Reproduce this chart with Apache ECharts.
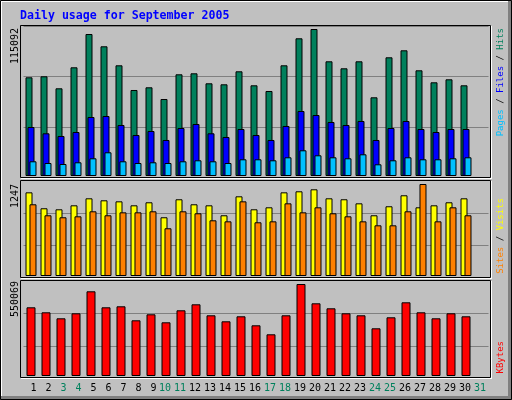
<!DOCTYPE html>
<html><head><meta charset="utf-8">
<script src="https://cdn.jsdelivr.net/npm/echarts@6/dist/echarts.min.js"></script>
<style>html,body{margin:0;padding:0;background:#c0c0c0}#c{width:512px;height:400px}</style>
</head><body><div id="c"></div>
<script>
const titleText = 'Daily usage for September 2005';
const days = ['1','2','3','4','5','6','7','8','9','10','11','12','13','14','15','16','17','18','19','20','21','22','23','24','25','26','27','28','29','30','31'];
const weekendDays = ['3','4','10','11','17','18','24','25','31'];
const hits = [77276, 78059, 68664, 85106, 111177, 101547, 86671, 67333, 69447, 60286, 79625, 80408, 72579, 71796, 81974, 71013, 66550, 86671, 107810, 115092, 89804, 84323, 89804, 61617, 92936, 98416, 82757, 73362, 75711, 71013, null];
const files = [38364, 33432, 31318, 34449, 46193, 46976, 39930, 32101, 35232, 28186, 37581, 40713, 33432, 30535, 36798, 32101, 28186, 39147, 50891, 47759, 42279, 39930, 43062, 28186, 37581, 43062, 36798, 34449, 36798, 36798, null];
const pages = [11510, 10178, 9395, 10727, 13859, 18556, 11510, 10178, 10727, 10178, 11510, 12293, 11510, 10178, 13076, 13076, 12293, 14642, 20123, 16208, 14642, 13859, 16991, 9161, 12293, 14642, 13076, 13076, 13859, 14642, null];
const visits = [1134, 918, 904, 958, 1053, 1026, 1012, 958, 999, 796, 1040, 972, 958, 823, 1080, 904, 931, 1134, 1148, 1175, 1053, 1040, 985, 823, 945, 1094, 931, 958, 999, 1053, null];
const sites = [972, 823, 796, 809, 877, 823, 863, 863, 877, 647, 877, 850, 755, 741, 1012, 728, 741, 985, 863, 931, 850, 809, 741, 687, 687, 877, 1247, 741, 931, 823, null];
const kbytes = [410757, 380862, 344988, 374883, 506421, 410757, 416736, 333030, 368904, 321072, 392820, 428694, 362925, 327051, 356946, 303135, 249324, 362925, 550069, 434673, 404778, 374883, 362925, 285198, 350967, 440652, 380862, 344988, 374883, 356946, null];
const maxLabels = ['115092', '1247', '550069'];

const C = {hits:'#00805c', files:'#0000ff', pages:'#00c0ff', visits:'#ffff00', sites:'#ff8000', kbytes:'#ff0000'};
const mono = '"DejaVu Sans Mono", monospace';

// axis ranges: panel pixel layout [gridTop, gridHeight, base offset from bottom, max bar height]
function valAxis(idx, maxVal, gridH, baseOff, barH) {
  const u = maxVal / barH;
  return {
    type: 'value', gridIndex: idx,
    min: -baseOff * u, max: (gridH - baseOff) * u, interval: gridH / 3 * u,
    axisLine: {show: false}, axisTick: {show: false}, axisLabel: {show: false},
    splitLine: {show: true, showMinLine: false, showMaxLine: false, lineStyle: {color: '#808080', width: 1}}
  };
}
function catAxis(idx, showLabels) {
  return {
    type: 'category', gridIndex: idx, data: days, boundaryGap: true,
    axisLine: {show: false}, axisTick: {show: false},
    axisLabel: showLabels ? {
      show: true, interval: 0, margin: 4, fontSize: 10, fontFamily: mono,
      color: (v) => weekendDays.indexOf(v) >= 0 ? '#00805c' : '#000000',
      formatter: (v) => v.length === 1 ? '{s|' + v + '}' : '{d|' + v + '}',
      rich: {s: {padding: [0, 0, 0, 5]}, d: {padding: [0, 2, 0, 0]}}
    } : {show: false},
    splitLine: {show: false}
  };
}
function bar(name, data, color, xi, w, gap) {
  return {
    type: 'bar', name, data, xAxisIndex: xi, yAxisIndex: xi,
    barWidth: w, barGap: gap,
    itemStyle: {color, borderColor: '#000', borderWidth: 1},
    emphasis: {disabled: true}, silent: true
  };
}
function vText(x, y, text, rich, size, align) {
  return {
    type: 'text', x, y, rotation: Math.PI / 2, z: 100,
    style: {
      text, rich, fontSize: size, fontFamily: mono, fill: '#000',
      align: align, textAlign: align, verticalAlign: 'middle', textVerticalAlign: 'middle'
    }
  };
}
function hline(x1, x2, y, color) { return {type: 'line', z: 50, shape: {x1, y1: y, x2, y2: y}, style: {stroke: color, lineWidth: 1}}; }
function vline(x, y1, y2, color) { return {type: 'line', z: 50, shape: {x1: x, y1, x2: x, y2}, style: {stroke: color, lineWidth: 1}}; }
function frame(top, h) {
  return [
    {type: 'rect', z: 50, shape: {x: 20.5, y: top + 0.5, width: 470, height: h}, style: {fill: null, stroke: '#000', lineWidth: 1}},
    hline(21, 492, top + h + 1.5, '#ffffff'),
    vline(491.5, top + 1, top + h + 2, '#ffffff')
  ];
}

const chart = echarts.init(document.getElementById('c'), null, {renderer: 'canvas'});
chart.setOption({
  animation: false,
  backgroundColor: '#c0c0c0',
  grid: [
    {left: 23.5, right: 23.5, top: 26, height: 152},
    {left: 23.5, right: 23.5, top: 182, height: 95},
    {left: 23.5, right: 23.5, top: 280, height: 99}
  ],
  xAxis: [catAxis(0, false), catAxis(1, false), catAxis(2, true)],
  yAxis: [
    valAxis(0, Number(maxLabels[0]), 152, 2, 147),
    valAxis(1, Number(maxLabels[1]), 95, 1, 92),
    valAxis(2, Number(maxLabels[2]), 99, 3, 92)
  ],
  series: [
    bar('Hits', hits, C.hits, 0, 7, '-71.43%'),
    bar('Files', files, C.files, 0, 7, '-71.43%'),
    bar('Pages', pages, C.pages, 0, 7, '-71.43%'),
    bar('Visits', visits, C.visits, 1, 7, '-42.86%'),
    bar('Sites', sites, C.sites, 1, 7, '-42.86%'),
    bar('KBytes', kbytes, C.kbytes, 2, 9, '0%')
  ],
  graphic: [].concat(
    [
      {type: 'rect', z: 40, shape: {x: 508, y: 0, width: 4, height: 400}, style: {fill: '#808080'}},
      {type: 'rect', z: 40, shape: {x: 0, y: 396, width: 512, height: 4}, style: {fill: '#808080'}},
      hline(1, 508, 1.5, '#ffffff'),
      vline(1.5, 1, 396, '#ffffff'),
      {type: 'rect', z: 60, shape: {x: 0.5, y: 0.5, width: 511, height: 399}, style: {fill: null, stroke: '#000', lineWidth: 1}}
    ],
    frame(25, 152), frame(180, 97), frame(280, 97),
    [
      {type: 'text', x: 20, y: 15.5, z: 100, style: {text: titleText, fontSize: 11.6, fontWeight: 'bold', fontFamily: mono, fill: '#0000ff', align: 'left', textAlign: 'left', verticalAlign: 'middle', textVerticalAlign: 'middle'}},
      vText(15, 28, maxLabels[0], null, 10, 'right'),
      vText(15, 184, maxLabels[1], null, 10, 'right'),
      vText(15, 281, maxLabels[2], null, 10, 'right'),
      vText(500.5, 28, '{p|Pages}{k| / }{f|Files}{k| / }{h|Hits}', {p: {fill: C.pages, fontSize: 9, fontFamily: mono}, k: {fill: '#000', fontSize: 9, fontFamily: mono}, f: {fill: C.files, fontSize: 9, fontFamily: mono}, h: {fill: C.hits, fontSize: 9, fontFamily: mono}}, 9, 'right'),
      vText(500.5, 198, '{s|Sites}{k| / }{v|Visits}', {s: {fill: C.sites, fontSize: 9, fontFamily: mono}, k: {fill: '#000', fontSize: 9, fontFamily: mono}, v: {fill: C.visits, fontSize: 9, fontFamily: mono}}, 9, 'right'),
      vText(500.5, 341, '{r|KBytes}', {r: {fill: C.kbytes, fontSize: 9, fontFamily: mono}}, 9, 'right')
    ]
  )
});
</script>
</body></html>
